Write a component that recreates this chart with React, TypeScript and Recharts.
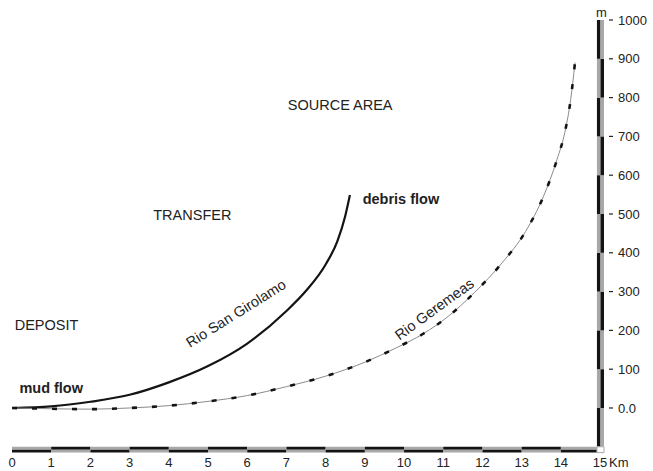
import React from "react";
import {
  LineChart,
  Line,
  XAxis,
  YAxis,
  ReferenceArea,
  ReferenceDot,
} from "recharts";

// distance (km) / elevation (m)
const girolamoKm = [0, 1, 2, 3, 4, 5, 6, 7, 7.5, 8, 8.3, 8.5, 8.62];
const girolamoM = [0, 4, 16, 34, 66, 108, 166, 250, 302, 370, 430, 495, 549];

const geremeasKm = [0, 1, 2, 3, 4, 5, 6, 7, 8, 9, 9.8, 10.5, 11.1, 11.8, 12.5, 13.1, 13.55, 13.9, 14.1, 14.25, 14.36];
const geremeasM = [0, -2, -3, 0, 6, 17, 32, 55, 82, 118, 155, 192, 234, 298, 374, 455, 544, 640, 710, 795, 890];

const kmTicks = [0, 1, 2, 3, 4, 5, 6, 7, 8, 9, 10, 11, 12, 13, 14, 15];
const mTicks = [0, 100, 200, 300, 400, 500, 600, 700, 800, 900, 1000];

const girolamo = girolamoKm.map((km, i) => ({ km, m: girolamoM[i] }));
const geremeas = geremeasKm.map((km, i) => ({ km, m: geremeasM[i] }));

const FONT = '"Liberation Sans", Arial, Helvetica, sans-serif';
const DARK = "#141414";
const GREY = "#a8a8a8";

// text placed in data coordinates
const notes = [
  { km: 8.37, m: 781, text: "SOURCE AREA" },
  { km: 4.6, m: 497, text: "TRANSFER" },
  { km: 0.88, m: 214, text: "DEPOSIT" },
  { km: 1.0, m: 52, text: "mud flow", bold: true },
  { km: 9.92, m: 539, text: "debris flow", bold: true },
  { km: 5.71, m: 244, text: "Rio San Girolamo", angle: -32 },
  { km: 10.77, m: 255, text: "Rio Geremeas", angle: -36 },
];

const XTick = (props: any) => {
  const { x, y, payload } = props;
  return (
    <g>
      <text x={x} y={y + 14.5} textAnchor="middle" fontSize={13} fill="#222" fontFamily={FONT}>
        {payload.value}
      </text>
      {payload.value === 15 && (
        <text x={x + 9} y={y + 14.5} textAnchor="start" fontSize={13} fill="#222" fontFamily={FONT}>
          Km
        </text>
      )}
    </g>
  );
};

const YTick = (props: any) => {
  const { x, y, payload } = props;
  const v = payload.value;
  return (
    <g>
      <line x1={x + 5} x2={x + 9} y1={y} y2={y} stroke="#222" strokeWidth={1.2} />
      <text x={x + 14} y={y} dy="0.36em" fontSize={13} fill="#222" fontFamily={FONT}>
        {v === 0 ? "0.0" : v}
      </text>
      {v === 1000 && (
        <text x={x - 8} y={y - 3} fontSize={13} fill="#222" fontFamily={FONT}>
          m
        </text>
      )}
    </g>
  );
};

const Note = (n: any) => (props: any) => {
  const { cx, cy } = props;
  return (
    <text
      x={cx}
      y={cy}
      dy="0.35em"
      textAnchor="middle"
      fontSize={14.5}
      fontWeight={n.bold ? "bold" : "normal"}
      fill="#222"
      fontFamily={FONT}
      transform={n.angle ? `rotate(${n.angle} ${cx} ${cy})` : undefined}
    >
      {n.text}
    </text>
  );
};

export default function App() {
  const xEnd = 14.92;
  return (
    <div style={{ position: "absolute", left: 0, top: 0, background: "#fff" }}>
      <LineChart
        width={653}
        height={471}
        margin={{ top: 20, right: 0, bottom: 0, left: 12 }}
      >
        <XAxis
          type="number"
          dataKey="km"
          domain={[0, 15.1]}
          ticks={kmTicks}
          interval={0}
          axisLine={false}
          tickLine={false}
          tickSize={0}
          tickMargin={0}
          height={18.4}
          tick={<XTick />}
          allowDataOverflow
        />
        <YAxis
          type="number"
          orientation="right"
          domain={[-115, 1000]}
          ticks={mTicks}
          interval={0}
          axisLine={false}
          tickLine={false}
          tickSize={0}
          tickMargin={0}
          width={49}
          tick={<YTick />}
          allowDataOverflow
        />

        {/* horizontal distance bar */}
        {kmTicks.slice(0, -1).map((k) => (
          <ReferenceArea
            key={`xt${k}`}
            x1={k}
            x2={Math.min(k + 1, xEnd)}
            y1={-107.5}
            y2={-100}
            fill={k % 2 === 0 ? GREY : DARK}
            fillOpacity={1}
            stroke="none"
          />
        ))}
        {kmTicks.slice(0, -1).map((k) => (
          <ReferenceArea
            key={`xb${k}`}
            x1={k}
            x2={Math.min(k + 1, xEnd)}
            y1={-115}
            y2={-107.5}
            fill={k % 2 === 0 ? DARK : GREY}
            fillOpacity={1}
            stroke="none"
          />
        ))}

        {/* vertical elevation bar */}
        {[-100, ...mTicks.slice(0, -1)].map((lo) => {
          const k = (900 - lo) / 100;
          return (
            <React.Fragment key={`y${lo}`}>
              <ReferenceArea
                x1={xEnd}
                x2={15.01}
                y1={lo}
                y2={lo + 100}
                fill={k % 2 === 0 ? DARK : GREY}
                fillOpacity={1}
                stroke="none"
              />
              <ReferenceArea
                x1={15.01}
                x2={15.1}
                y1={lo}
                y2={lo + 100}
                fill={k % 2 === 0 ? GREY : DARK}
                fillOpacity={1}
                stroke="none"
              />
            </React.Fragment>
          );
        })}
        <ReferenceArea
          x1={xEnd}
          x2={15.1}
          y1={-115}
          y2={-100}
          fill="#fff"
          fillOpacity={1}
          stroke={GREY}
          strokeWidth={1}
        />

        <Line
          data={girolamo}
          dataKey="m"
          type="monotone"
          stroke={DARK}
          strokeWidth={2.2}
          dot={false}
          activeDot={false}
          isAnimationActive={false}
        />
        <Line
          data={geremeas}
          dataKey="m"
          type="monotone"
          stroke="#8a8a8a"
          strokeWidth={1}
          dot={false}
          activeDot={false}
          isAnimationActive={false}
        />
        <Line
          data={geremeas}
          dataKey="m"
          type="monotone"
          stroke={DARK}
          strokeWidth={2.6}
          strokeDasharray="5 15"
          dot={false}
          activeDot={false}
          isAnimationActive={false}
        />

        {notes.map((n) => (
          <ReferenceDot
            key={n.text}
            x={n.km}
            y={n.m}
            r={0}
            ifOverflow="visible"
            shape={Note(n)}
          />
        ))}
      </LineChart>
    </div>
  );
}
